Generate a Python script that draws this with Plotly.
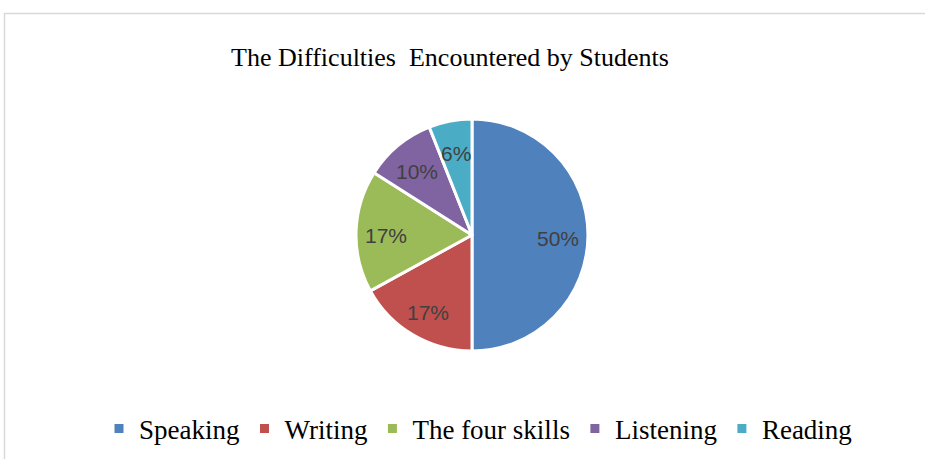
import math
import plotly.graph_objects as go

categories = ["Speaking", "Writing", "The four skills", "Listening", "Reading"]
values = [50, 17, 17, 10, 6]
colors = ["#4F81BD", "#C0504D", "#9BBB59", "#8064A2", "#4BACC6"]

W, H = 925, 459

# pie placement (pixels)
PX0, PX1, PY0, PY1 = 356, 588, 118, 352
CX, CY = (PX0 + PX1) / 2, (PY0 + PY1) / 2
LABEL_R = 86

fig = go.Figure(go.Pie(
    labels=categories,
    values=values,
    sort=False,
    direction="clockwise",
    rotation=0,
    marker=dict(colors=colors, line=dict(color="white", width=3)),
    textinfo="none",
    domain=dict(x=[PX0 / W, PX1 / W], y=[1 - PY1 / H, 1 - PY0 / H]),
    hoverinfo="label+percent",
))

# percentage labels, positioned at the middle angle of each slice
total = sum(values)
annotations = []
cum = 0
for v in values:
    mid = (cum + v / 2) / total * 2 * math.pi
    cum += v
    px = CX + LABEL_R * math.sin(mid)
    py = CY - LABEL_R * math.cos(mid)
    annotations.append(dict(
        x=px / W, y=1 - py / H, xref="paper", yref="paper",
        text=f"{round(v / total * 100)}%", showarrow=False,
        xanchor="center", yanchor="middle", yshift=-3,
        font=dict(family="Liberation Sans, Arial, sans-serif", size=21, color="#404040"),
    ))

fig.update_layout(
    width=W, height=H,
    margin=dict(l=0, r=0, t=0, b=0),
    paper_bgcolor="white",
    plot_bgcolor="white",
    title=dict(
        text="The Difficulties  Encountered by Students",
        x=450 / W, xanchor="center",
        y=1 - 57 / H, yanchor="middle",
        font=dict(family="Liberation Serif, Times New Roman, serif", size=26, color="black"),
    ),
    legend=dict(
        orientation="h",
        x=478 / W, xanchor="center",
        y=1 - 429 / H, yanchor="middle",
        font=dict(family="Liberation Serif, Times New Roman, serif", size=27, color="black"),
        itemwidth=30,
        traceorder="normal",
    ),
    annotations=annotations,
    shapes=[dict(
        type="rect", xref="paper", yref="paper",
        x0=4.5 / W, x1=1.02, y0=-0.02, y1=1 - 13.5 / H,
        line=dict(color="#D9D9D9", width=1.5),
        fillcolor="rgba(0,0,0,0)",
    )],
)

fig.write_html("out.html", config={"displayModeBar": False},
               post_script="document.body.style.margin='0px';")
